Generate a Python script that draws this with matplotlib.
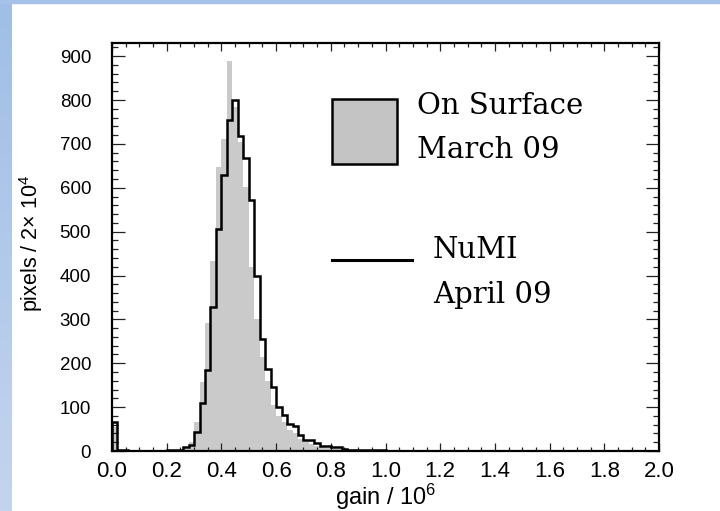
import numpy as np
import matplotlib
matplotlib.use('Agg')
import matplotlib.pyplot as plt
from matplotlib.patches import Rectangle
from matplotlib.lines import Line2D
from matplotlib.ticker import MultipleLocator

# bins of 0.02 in gain, from 0.00 up to 1.00 (empty above)
bin_edges = np.round(np.arange(0, 1.0001, 0.02), 2)

# On Surface, March 09 (grey filled)
surface = [55, 0, 0, 0, 0, 0, 0, 0, 0, 0,
           0, 0, 0, 4, 20, 67, 158, 292, 434, 648,
           711, 890, 785, 705, 602, 420, 300, 215, 160, 105,
           80, 65, 48, 42, 28, 20, 17, 12, 9, 7,
           5, 4, 3, 3, 4, 2, 1, 1, 1, 1]

# NuMI, April 09 (black line)
numi = [67, 2, 2, 1, 1, 1, 1, 1, 1, 1,
        2, 2, 3, 10, 14, 44, 109, 185, 329, 506,
        628, 755, 800, 719, 667, 573, 398, 255, 188, 147,
        100, 82, 61, 58, 36, 26, 25, 18, 12, 12,
        9, 9, 5, 3, 3, 2, 2, 3, 3, 2]

x_ticks = [0.0, 0.2, 0.4, 0.6, 0.8, 1.0, 1.2, 1.4, 1.6, 1.8, 2.0]
y_ticks = [0, 100, 200, 300, 400, 500, 600, 700, 800, 900]

plt.rcParams['font.family'] = ['Liberation Sans', 'DejaVu Sans']
plt.rcParams['mathtext.fontset'] = 'custom'
plt.rcParams['mathtext.rm'] = 'Liberation Sans'

fig = plt.figure(figsize=(7.2, 5.11), dpi=100)

# blue slide borders (top strip, left gradient strip)
band = fig.add_axes([0, 0, 12 / 720, 1])
grad = np.linspace(0, 1, 256)[:, None]
top_c = np.array([160, 190, 230]) / 255
bot_c = np.array([196, 212, 238]) / 255
img = top_c + (bot_c - top_c) * grad[:, :, None]
band.imshow(img, aspect='auto', extent=[0, 1, 0, 1])
band.axis('off')
fig.patches.append(Rectangle((0, 1 - 3 / 511), 1, 3 / 511, transform=fig.transFigure,
                             color='#a6c2e8', zorder=5))

ax = fig.add_axes([112 / 720, 1 - 451 / 511, 547 / 720, 408 / 511])

ax.stairs(surface, bin_edges, fill=True, color='#cacaca', zorder=1)
ax.stairs(numi, bin_edges, color='black', lw=1.8, zorder=2)

ax.set_xlim(0, 2.0)
ax.set_ylim(0, 930)
ax.set_xticks(x_ticks)
ax.set_xticklabels([f'{v:.1f}' for v in x_ticks])
ax.set_yticks(y_ticks)
ax.xaxis.set_minor_locator(MultipleLocator(0.05))
ax.yaxis.set_minor_locator(MultipleLocator(20))

ax.tick_params(which='both', direction='in', top=True, right=True, width=0.9, color='#222222')
ax.tick_params(axis='x', which='major', length=6, labelsize=16, pad=7)
ax.tick_params(axis='x', which='minor', length=3)
ax.tick_params(axis='y', which='major', length=9.5, labelsize=13.5, pad=15)
ax.tick_params(axis='y', which='minor', length=4.5)
for s in ax.spines.values():
    s.set_linewidth(1.6)

ax.set_xlabel(r'gain / 10$\mathregular{^6}$', fontsize=17)
ax.set_ylabel(r'pixels / 2× 10$\mathregular{^4}$', fontsize=15.5)
ax.xaxis.set_label_coords(0.5, -0.076)
ax.yaxis.set_label_coords(-0.1225, 0.51)

# hand-made legend
ax.add_patch(Rectangle((0.4017, 0.7034), 0.1188, 0.1586, transform=ax.transAxes,
                       facecolor='#c4c4c4', edgecolor='black', lw=1.8, zorder=3))
ax.add_line(Line2D([0.4017, 0.5479], [0.468, 0.468], transform=ax.transAxes,
                   color='black', lw=2.2, zorder=3))
serif = dict(family='DejaVu Serif', fontsize=21, va='baseline', transform=ax.transAxes)
ax.text(0.557, 0.826, 'On Surface', **serif)
ax.text(0.557, 0.718, 'March 09', **serif)
ax.text(0.587, 0.473, 'NuMI', **serif)
ax.text(0.587, 0.363, 'April 09', **serif)

fig.savefig('out.png', dpi=100)
